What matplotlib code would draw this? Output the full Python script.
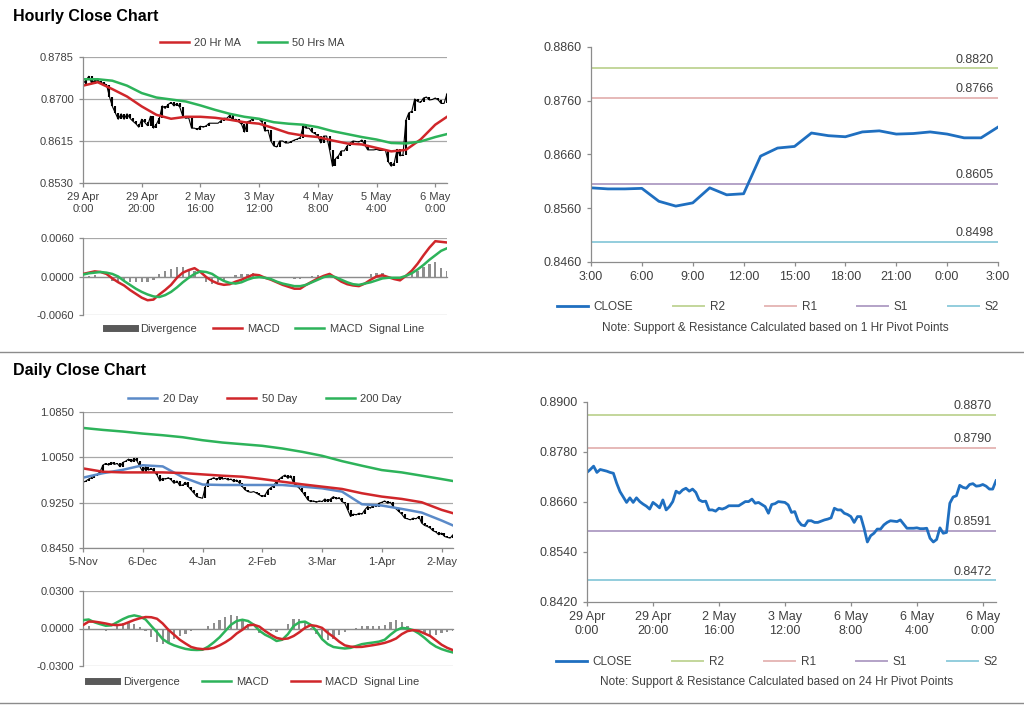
import numpy as np
import matplotlib.pyplot as plt
from matplotlib.lines import Line2D
from matplotlib.ticker import FormatStrFormatter

plt.rcParams['font.family'] = ['Liberation Sans', 'DejaVu Sans']

W, H = 1024, 706

# ---- hourly data (same close series feeds the 24 hr pivot chart) ----
hourly_close = [
    0.8731, 0.8738, 0.8746, 0.8731, 0.8738, 0.8736, 0.8734, 0.8731, 0.8729, 0.8705,
    0.8685, 0.8672, 0.8659, 0.8670, 0.8659, 0.8670, 0.8661, 0.8655, 0.8650, 0.8643,
    0.8659, 0.8653, 0.8646, 0.8665, 0.8641, 0.8649, 0.8661, 0.8686, 0.8681, 0.8689,
    0.8693, 0.8686, 0.8691, 0.8683, 0.8665, 0.8661, 0.8662, 0.8641, 0.8641, 0.8638,
    0.8645, 0.8643, 0.8646, 0.8651, 0.8651, 0.8651, 0.8651, 0.8656, 0.8661, 0.8661,
    0.8667, 0.8657, 0.8659, 0.8654, 0.8649, 0.8633, 0.8654, 0.8656, 0.8661, 0.8660,
    0.8659, 0.8653, 0.8635, 0.8637, 0.8615, 0.8605, 0.8603, 0.8615, 0.8615, 0.8611,
    0.8611, 0.8614, 0.8617, 0.8619, 0.8622, 0.8645, 0.8641, 0.8641, 0.8633, 0.8630,
    0.8625, 0.8611, 0.8625, 0.8625, 0.8597, 0.8564, 0.8579, 0.8585, 0.8595, 0.8595,
    0.8605, 0.8611, 0.8615, 0.8614, 0.8613, 0.8617, 0.8607, 0.8597, 0.8597, 0.8597,
    0.8598, 0.8596, 0.8596, 0.8597, 0.8573, 0.8564, 0.8570, 0.8598, 0.8585, 0.8587,
    0.8657, 0.8672, 0.8675, 0.8700, 0.8695, 0.8693, 0.8702, 0.8704, 0.8698, 0.8699,
    0.8702, 0.8698, 0.8691, 0.8691, 0.8711,
]
hourly_ticks = [0, 20, 40, 60, 80, 100, 120]
hourly_labels = ['29 Apr\n0:00', '29 Apr\n20:00', '2 May\n16:00', '3 May\n12:00',
                 '4 May\n8:00', '5 May\n4:00', '6 May\n0:00']
pivot24_labels = ['29 Apr\n0:00', '29 Apr\n20:00', '2 May\n16:00', '3 May\n12:00',
                  '6 May\n8:00', '6 May\n4:00', '6 May\n0:00']

hr_ma_idx = list(range(0, 121, 5)) + [124]
ma20_hr = [0.8727, 0.8734, 0.8720, 0.8705, 0.8685, 0.8668, 0.8660, 0.8664, 0.8664, 0.8662,
           0.8658, 0.8653, 0.8650, 0.8641, 0.8631, 0.8626, 0.8623, 0.8616, 0.8610, 0.8608,
           0.8601, 0.8594, 0.8597, 0.8618, 0.8648, 0.8664]
ma50_hr = [0.8740, 0.8740, 0.8737, 0.8727, 0.8712, 0.8703, 0.8699, 0.8695, 0.8687, 0.8678,
           0.8670, 0.8664, 0.8660, 0.8653, 0.8650, 0.8648, 0.8643, 0.8635, 0.8629, 0.8623,
           0.8618, 0.8611, 0.8610, 0.8614, 0.8623, 0.8629]

hr_macd_idx = list(range(0, 125, 2))
hr_macd = [0.0004, 0.0006, 0.0008, 0.0007, 0.0004, -0.0003, -0.0009, -0.0014, -0.0021, -0.0027,
           -0.0033, -0.0037, -0.0036, -0.0028, -0.0021, -0.0013, -0.0002, 0.0006, 0.0010, 0.0013,
           0.0007, -0.0001, -0.0007, -0.0011, -0.0013, -0.0012, -0.0008, -0.0005, -0.0001, 0.0003,
           0.0002, -0.0002, -0.0005, -0.0009, -0.0013, -0.0016, -0.0019, -0.0019, -0.0013, -0.0008,
           -0.0003, 0.0001, 0.0004, -0.0002, -0.0008, -0.0012, -0.0014, -0.0015, -0.0011, -0.0005,
           0.0000, 0.0002, -0.0001, -0.0004, -0.0006, 0.0001, 0.0009, 0.0020, 0.0033, 0.0045,
           0.0055, 0.0054, 0.0053]
hr_signal = [0.0003, 0.0005, 0.0006, 0.0007, 0.0006, 0.0004, 0.0000, -0.0007, -0.0013, -0.0019,
             -0.0024, -0.0028, -0.0031, -0.0032, -0.0029, -0.0024, -0.0017, -0.0009, -0.0002, 0.0004,
             0.0008, 0.0007, 0.0004, -0.0002, -0.0007, -0.0010, -0.0011, -0.0009, -0.0005, -0.0002,
             -0.0001, -0.0002, -0.0004, -0.0008, -0.0011, -0.0013, -0.0015, -0.0015, -0.0013, -0.0009,
             -0.0005, -0.0001, 0.0001, -0.0001, -0.0005, -0.0009, -0.0012, -0.0013, -0.0011, -0.0009,
             -0.0006, -0.0003, -0.0002, -0.0002, -0.0002, 0.0001, 0.0005, 0.0011, 0.0018, 0.0026,
             0.0033, 0.0040, 0.0044]

pivot1_labels = ['3:00', '6:00', '9:00', '12:00', '15:00', '18:00', '21:00', '0:00', '3:00']
level_names = ['R2', 'R1', 'S1', 'S2']
levels_1hr = [0.8820, 0.8766, 0.8605, 0.8498]
levels_24hr = [0.8870, 0.8790, 0.8591, 0.8472]
level_colors = ['#c3d69b', '#e6b9b8', '#b3a2c7', '#93cddd']

# ---- daily data ----
daily_close = [
    0.9609, 0.9632, 0.9667, 0.9691, 0.9726, 0.9749, 0.9796, 0.9913, 0.9942, 0.9913,
    0.9960, 0.9925, 0.9942, 0.9884, 0.9960, 0.9983, 1.0019, 0.9972, 1.0030, 0.9983,
    0.9884, 0.9796, 0.9884, 0.9825, 0.9855, 0.9796, 0.9738, 0.9632, 0.9679, 0.9667,
    0.9691, 0.9650, 0.9591, 0.9632, 0.9550, 0.9562, 0.9609, 0.9533, 0.9474, 0.9416,
    0.9357, 0.9340, 0.9328, 0.9533, 0.9650, 0.9667, 0.9691, 0.9650, 0.9708, 0.9667,
    0.9679, 0.9650, 0.9667, 0.9620, 0.9650, 0.9591, 0.9533, 0.9474, 0.9445, 0.9433,
    0.9445, 0.9416, 0.9386, 0.9357, 0.9386, 0.9474, 0.9515, 0.9550, 0.9632, 0.9667,
    0.9708, 0.9738, 0.9679, 0.9726, 0.9591, 0.9550, 0.9503, 0.9445, 0.9375, 0.9299,
    0.9269, 0.9281, 0.9257, 0.9281, 0.9269, 0.9316, 0.9269, 0.9316, 0.9357, 0.9316,
    0.9340, 0.9269, 0.9240, 0.9123, 0.9006, 0.9047, 0.9035, 0.9064, 0.9047, 0.9123,
    0.9181, 0.9152, 0.9211, 0.9181, 0.9240, 0.9257, 0.9281, 0.9240, 0.9257, 0.9181,
    0.9140, 0.9094, 0.9047, 0.8977, 0.8965, 0.8947, 0.8977, 0.8965, 0.9006, 0.8889,
    0.8848, 0.8830, 0.8801, 0.8754, 0.8731, 0.8684, 0.8713, 0.8654, 0.8637, 0.8625,
    0.8684,
]
daily_ticks = [0, 21, 42, 63, 84, 105, 126]
daily_labels = ['5-Nov', '6-Dec', '4-Jan', '2-Feb', '3-Mar', '1-Apr', '2-May']

day_ma_idx = list(range(0, 127, 7)) + [130]
ma20_day = [0.9691, 0.9770, 0.9830, 0.9910, 0.9890, 0.9700, 0.9570, 0.9562, 0.9562, 0.9562,
            0.9562, 0.9533, 0.9503, 0.9445, 0.9222, 0.9199, 0.9140, 0.9075, 0.8935, 0.8848]
ma50_day = [0.9855, 0.9796, 0.9784, 0.9784, 0.9784, 0.9773, 0.9749, 0.9726, 0.9708, 0.9667,
            0.9620, 0.9574, 0.9533, 0.9492, 0.9416, 0.9357, 0.9316, 0.9257, 0.9123, 0.9064]
ma200_day = [1.0569, 1.0534, 1.0505, 1.0469, 1.0440, 1.0405, 1.0352, 1.0311, 1.0282, 1.0253,
             1.0206, 1.0147, 1.0077, 0.9983, 0.9902, 0.9825, 0.9784, 0.9726, 0.9667, 0.9632]

day_macd_idx = list(range(0, 131, 2))
day_macd = [0.0067, 0.0072, 0.0050, 0.0035, 0.0022, 0.0025, 0.0050, 0.0075, 0.0095, 0.0105,
            0.0095, 0.0072, 0.0020, -0.0030, -0.0085, -0.0115, -0.0135, -0.0150, -0.0163, -0.0170,
            -0.0172, -0.0170, -0.0145, -0.0110, -0.0070, -0.0020, 0.0030, 0.0060, 0.0070, 0.0060,
            0.0030, -0.0018, -0.0050, -0.0072, -0.0100, -0.0090, -0.0045, 0.0020, 0.0050, 0.0055,
            0.0030, -0.0020, -0.0085, -0.0125, -0.0148, -0.0155, -0.0160, -0.0155, -0.0140, -0.0125,
            -0.0118, -0.0112, -0.0105, -0.0090, -0.0050, -0.0015, 0.0005, 0.0000, -0.0013, -0.0040,
            -0.0075, -0.0115, -0.0145, -0.0165, -0.0180, -0.0192]
day_signal = [0.0027, 0.0055, 0.0055, 0.0048, 0.0040, 0.0030, 0.0027, 0.0032, 0.0050, 0.0068,
              0.0082, 0.0092, 0.0090, 0.0078, 0.0040, -0.0010, -0.0050, -0.0090, -0.0120, -0.0148,
              -0.0160, -0.0165, -0.0163, -0.0155, -0.0135, -0.0110, -0.0080, -0.0040, -0.0010, 0.0025,
              0.0030, 0.0015, -0.0020, -0.0050, -0.0075, -0.0085, -0.0080, -0.0060, -0.0030, 0.0005,
              0.0027, 0.0020, 0.0005, -0.0035, -0.0067, -0.0105, -0.0135, -0.0145, -0.0148, -0.0147,
              -0.0140, -0.0133, -0.0125, -0.0115, -0.0100, -0.0080, -0.0045, -0.0021, -0.0013, -0.0020,
              -0.0040, -0.0060, -0.0095, -0.0130, -0.0155, -0.0173]

# ---- styles ----
red = '#d0262a'
green = '#2db35a'
blue20 = '#5b8ac8'
close_blue = '#1f6fc0'
div_grey = '#8f8f8f'
axis_grey = '#8c8c8c'
grid_grey = '#a8a8a8'
text_grey = '#404040'


def px_box(left, top, right, bottom):
    return [left / W, 1 - bottom / H, (right - left) / W, (bottom - top) / H]


def style_axis(ax, fs):
    for s in ['top', 'right']:
        ax.spines[s].set_visible(False)
    for s in ['left', 'bottom']:
        ax.spines[s].set_color(axis_grey)
        ax.spines[s].set_linewidth(0.9)
    ax.tick_params(colors=axis_grey, labelcolor=text_grey, labelsize=fs, length=3, width=0.9)
    ax.yaxis.set_major_formatter(FormatStrFormatter('%.4f'))


def legend_at(handles, labels, cx, cy, spacing, fs=8):
    fig.legend(handles, labels, loc='center', bbox_to_anchor=(cx / W, 1 - cy / H),
               ncol=len(handles), frameon=False, fontsize=fs, handlelength=2.6,
               handletextpad=0.5, columnspacing=spacing, labelcolor=text_grey)


def price_bars(ax, values):
    x = np.arange(len(values))
    v = np.array(values)
    ax.vlines(x[1:], np.minimum(v[:-1], v[1:]), np.maximum(v[:-1], v[1:]), color='black', lw=1.5)
    ax.plot(x, v, color='black', lw=0.8)


def macd_panel(ax, idx, macd, signal, macd_col, sig_col, lim, xmax):
    idx = np.array(idx)
    m = np.array(macd)
    s = np.array(signal)
    ax.bar(idx, m - s, width=0.8, color=div_grey, zorder=2)
    ax.plot(idx, m, color=macd_col, lw=1.8, zorder=3)
    ax.plot(idx, s, color=sig_col, lw=1.8, zorder=3)
    ax.set_xlim(0, xmax)
    ax.set_ylim(-lim, lim)
    ax.set_yticks([-lim, 0, lim])
    ax.set_xticks([])
    ax.spines['bottom'].set_position(('data', 0))
    ax.yaxis.grid(True, color=grid_grey, lw=0.9)
    ax.set_axisbelow(True)


def pivot_panel(ax, values, levels, ylo, yhi, step, ticks, labels):
    x = np.arange(len(values))
    for lv, col in zip(levels, level_colors):
        ax.axhline(lv, color=col, lw=1.4)
        ax.annotate(f'{lv:.4f}', xy=(1, lv), xycoords=('axes fraction', 'data'),
                    xytext=(-3, 2), textcoords='offset points', ha='right', va='bottom',
                    fontsize=9, color=text_grey)
    ax.plot(x, values, color=close_blue, lw=2.0)
    ax.set_xlim(0, len(values) - 1)
    ax.set_ylim(ylo, yhi)
    ax.set_yticks(np.arange(ylo, yhi + step / 2, step))
    ax.set_xticks(ticks, labels)
    style_axis(ax, 9)


fig = plt.figure(figsize=(W / 100, H / 100), dpi=100)

# ---------------- Hourly section ----------------
fig.text(13 / W, 1 - 16 / H, 'Hourly Close Chart', fontsize=11.5, fontweight='bold', va='center')

ax1 = fig.add_axes(px_box(83, 57, 447, 183))
price_bars(ax1, hourly_close)
ax1.plot(hr_ma_idx, ma20_hr, color=red, lw=1.8)
ax1.plot(hr_ma_idx, ma50_hr, color=green, lw=1.8)
ax1.set_xlim(0, 124)
ax1.set_ylim(0.8530, 0.8785)
ax1.set_yticks([0.8530, 0.8615, 0.8700, 0.8785])
ax1.set_xticks(hourly_ticks, hourly_labels)
ax1.yaxis.grid(True, color=grid_grey, lw=0.9)
ax1.set_axisbelow(True)
style_axis(ax1, 8)
legend_at([Line2D([], [], color=red, lw=1.8), Line2D([], [], color=green, lw=1.8)],
          ['20 Hr MA', '50 Hrs MA'], 252, 43, 1.5)

ax2 = fig.add_axes(px_box(83, 238, 447, 315))
macd_panel(ax2, hr_macd_idx, hr_macd, hr_signal, red, green, 0.006, 124)
style_axis(ax2, 8)
legend_at([Line2D([], [], color='#595959', lw=5), Line2D([], [], color=red, lw=1.8),
           Line2D([], [], color=green, lw=1.8)],
          ['Divergence', 'MACD', 'MACD  Signal Line'], 265, 329, 1.4)

ax3 = fig.add_axes(px_box(591, 47, 998, 262))
pivot_panel(ax3, hourly_close[-25:], levels_1hr, 0.8460, 0.8860, 0.01,
            list(range(0, 25, 3)), pivot1_labels)
pivot_handles = [Line2D([], [], color=close_blue, lw=2.0)] + \
    [Line2D([], [], color=c, lw=1.4) for c in level_colors]
legend_at(pivot_handles, ['CLOSE'] + level_names, 778, 307, 3.4, fs=8.5)
fig.text(775 / W, 1 - 328 / H, 'Note: Support & Resistance Calculated based on 1 Hr Pivot Points',
         ha='center', va='center', fontsize=8.5, color=text_grey)

# separators
for yy in [352, 703]:
    fig.add_artist(Line2D([0, 1], [1 - yy / H] * 2, transform=fig.transFigure,
                          color='#8c8c8c', lw=1.0))

# ---------------- Daily section ----------------
fig.text(13 / W, 1 - 370 / H, 'Daily Close Chart', fontsize=11.5, fontweight='bold', va='center')

ax4 = fig.add_axes(px_box(83, 412, 453, 548))
price_bars(ax4, daily_close)
ax4.plot(day_ma_idx, ma20_day, color=blue20, lw=1.8)
ax4.plot(day_ma_idx, ma50_day, color=red, lw=1.8)
ax4.plot(day_ma_idx, ma200_day, color=green, lw=1.8)
ax4.set_xlim(0, 130)
ax4.set_ylim(0.8450, 1.0850)
ax4.set_yticks([0.8450, 0.9250, 1.0050, 1.0850])
ax4.set_xticks(daily_ticks, daily_labels)
ax4.yaxis.grid(True, color=grid_grey, lw=0.9)
ax4.set_axisbelow(True)
style_axis(ax4, 8)
legend_at([Line2D([], [], color=blue20, lw=1.8), Line2D([], [], color=red, lw=1.8),
           Line2D([], [], color=green, lw=1.8)],
          ['20 Day', '50 Day', '200 Day'], 265, 399, 2.6)

ax5 = fig.add_axes(px_box(83, 591, 453, 666))
macd_panel(ax5, day_macd_idx, day_macd, day_signal, green, red, 0.03, 130)
style_axis(ax5, 8)
legend_at([Line2D([], [], color='#595959', lw=5), Line2D([], [], color=green, lw=1.8),
           Line2D([], [], color=red, lw=1.8)],
          ['Divergence', 'MACD', 'MACD  Signal Line'], 254, 682, 2.0)

ax6 = fig.add_axes(px_box(587, 402, 996, 602))
pivot_panel(ax6, hourly_close, levels_24hr, 0.8420, 0.8900, 0.012,
            hourly_ticks, pivot24_labels)
ax6.set_xlim(0, 124)
legend_at(pivot_handles, ['CLOSE'] + level_names, 777, 662, 3.4, fs=8.5)
fig.text(777 / W, 1 - 682 / H, 'Note: Support & Resistance Calculated based on 24 Hr Pivot Points',
         ha='center', va='center', fontsize=8.5, color=text_grey)

fig.savefig('out.png', dpi=100)
